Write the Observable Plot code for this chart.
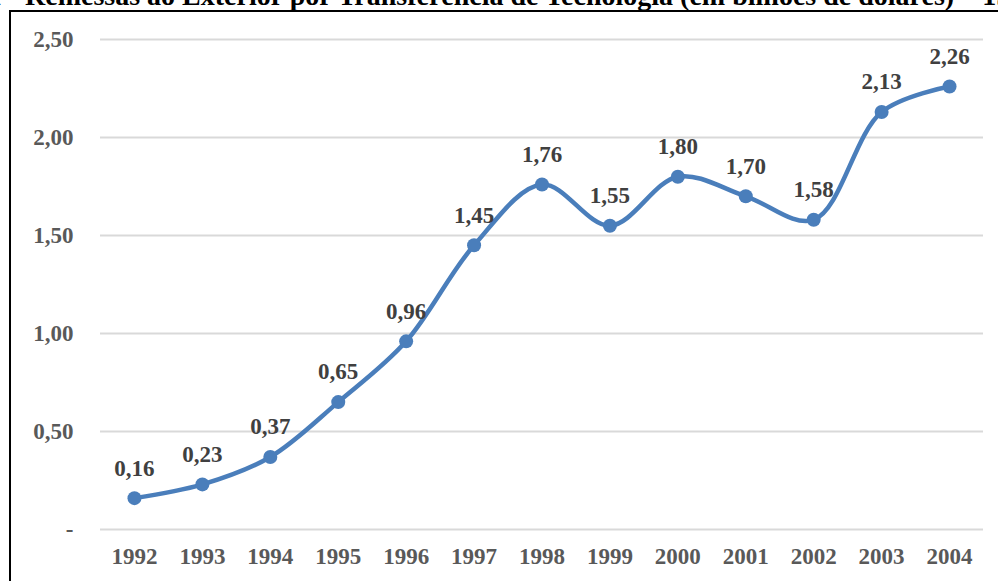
<!DOCTYPE html>
<html>
<head>
<meta charset="utf-8">
<script src="https://cdn.jsdelivr.net/npm/d3@7"></script>
<script src="https://cdn.jsdelivr.net/npm/@observablehq/plot@0.6"></script>
<style>
  html, body { margin: 0; padding: 0; background: #fff; overflow: hidden; }
  body { width: 998px; height: 581px; position: relative; font-family: "Liberation Serif", "Times New Roman", serif; }
  #title { position: absolute; top: -18px; white-space: nowrap; font-size: 28px; font-weight: bold; line-height: 1; color: #000; }
  #box { position: absolute; left: 9px; top: 10px; width: 1100px; height: 700px; border-left: 2px solid #000; border-top: 2px solid #000; }
  #chart { position: absolute; left: 0; top: 0; }
</style>
</head>
<body>
<div id="title"><span id="tpre">Gráfico 1 - </span>Remessas ao Exterior por Transferência de Tecnologia (em bilhões de dólares) – 1992-2004</div>
<div id="box"></div>
<div id="chart"></div>
<script>
const years = ["1992","1993","1994","1995","1996","1997","1998","1999","2000","2001","2002","2003","2004"];
const values = [0.16, 0.23, 0.37, 0.65, 0.96, 1.45, 1.76, 1.55, 1.80, 1.70, 1.58, 2.13, 2.26];
const yTicks = [0, 0.5, 1, 1.5, 2, 2.5];

const data = years.map((y, i) => ({year: y, value: values[i]}));
const fmt = v => v === 0 ? "-" : v.toFixed(2).replace(".", ",");
const blue = "#4a7ebb";
const font = "Liberation Serif";

const chart = Plot.plot({
  width: 998,
  height: 581,
  marginLeft: 100,
  marginRight: 15,
  marginTop: 39,
  marginBottom: 52,
  style: {background: "transparent", fontFamily: font},
  x: {type: "point", domain: years, padding: 0.5, round: false},
  y: {domain: [0, 2.5]},
  marks: [
    Plot.gridY(yTicks, {stroke: "#d9d9d9", strokeOpacity: 1, strokeWidth: 2}),
    Plot.axisY(yTicks, {tickSize: 0, tickPadding: 27, tickFormat: fmt, fontSize: 23, fontWeight: "bold", fill: "#595959", label: null}),
    Plot.axisX({tickSize: 0, tickPadding: 18, fontSize: 23, fontWeight: "bold", fill: "#595959", label: null}),
    Plot.line(data, {x: "year", y: "value", stroke: blue, strokeWidth: 4.5, curve: "catmull-rom"}),
    Plot.dot(data, {x: "year", y: "value", r: 7, fill: blue, stroke: "none"}),
    Plot.text(data, {x: "year", y: "value", text: d => fmt(d.value), dy: -30, fontSize: 23, fontWeight: "bold", fill: "#404040"})
  ]
});
document.getElementById("chart").appendChild(chart);

const pre = document.getElementById("tpre").getBoundingClientRect().width;
document.getElementById("title").style.left = (25 - pre) + "px";
</script>
</body>
</html>
